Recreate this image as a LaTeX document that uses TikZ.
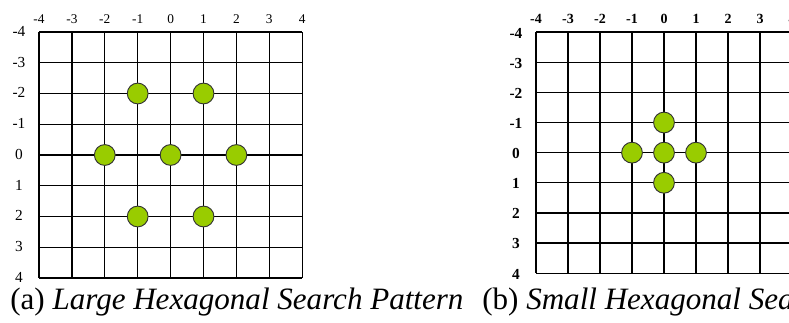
\documentclass[tikz,border=0pt]{standalone}
\usepackage{fontspec}
\setmainfont{Liberation Serif}
\usepackage{xcolor}
\usepackage{tikz}
\usetikzlibrary{positioning}
\definecolor{ptgreen}{HTML}{99CC00}

\tikzset{
  gridline/.style={line width=1pt, black},
  searchpt/.style={circle, draw=black!80, line width=0.7pt, fill=ptgreen, minimum size=15.6pt, inner sep=0pt},
  toplbl/.style={inner sep=1pt, font=\fontsize{10pt}{11pt}\selectfont},
  sidelbl/.style={inner sep=0.5pt, font=\fontsize{11.5pt}{12pt}\selectfont},
  caption/.style={anchor=base west, inner sep=0pt, font=\fontsize{23.3pt}{26pt}\selectfont}
}

\begin{document}
\begin{tikzpicture}
  \useasboundingbox (0,0) rectangle (591.75pt,-242.25pt);
  \clip (0,0) rectangle (591.75pt,-242.25pt);
  % (a) large hexagon
  \begin{scope}[xshift=127.95pt, yshift=-116.25pt, x=24.675pt, y=-23.06pt]
    \foreach \i in {-4,...,4} {
      \draw[gridline] (\i,-4) -- (\i,4);
      \draw[gridline] (-4,\i) -- (4,\i);
      \node[toplbl] (ta\i) at (\i,-4.42) {\i};
      \node[sidelbl] (sa\i) at (-4.61,\i-0.02) {\i};
    }
    % search points
    \foreach \px/\py [count=\k] in {-1/-2, 1/-2, -2/0, 0/0, 2/0, -1/2, 1/2}
      \node[searchpt] (pa\k) at (\px,\py) {};
  \end{scope}
  \node[caption] (capa) at (7.5pt,-232pt) {(a) \textit{Large Hexagonal Search Pattern}};
  % (b) small hexagon
  \begin{scope}[xshift=498pt, yshift=-114.5pt, x=24pt, y=-22.6pt]
    \foreach \i in {-4,...,4} {
      \draw[gridline] (\i,-4) -- (\i,4);
      \draw[gridline] (-4,\i) -- (4,\i);
      \node[toplbl, font=\fontsize{10.5pt}{11pt}\selectfont\bfseries] (tb\i) at (\i,-4.44) {\i};
      \node[sidelbl, font=\fontsize{11.5pt}{12pt}\selectfont\bfseries] (sb\i) at (-4.625,\i+0.03) {\i};
    }
    % search points
    \foreach \px/\py [count=\k] in {0/-1, -1/0, 0/0, 1/0, 0/1}
      \node[searchpt] (pb\k) at (\px,\py) {};
  \end{scope}
  \node[caption] (capb) at (361.5pt,-232pt) {(b) \textit{Small Hexagonal Search Pattern}};
\end{tikzpicture}
\end{document}
